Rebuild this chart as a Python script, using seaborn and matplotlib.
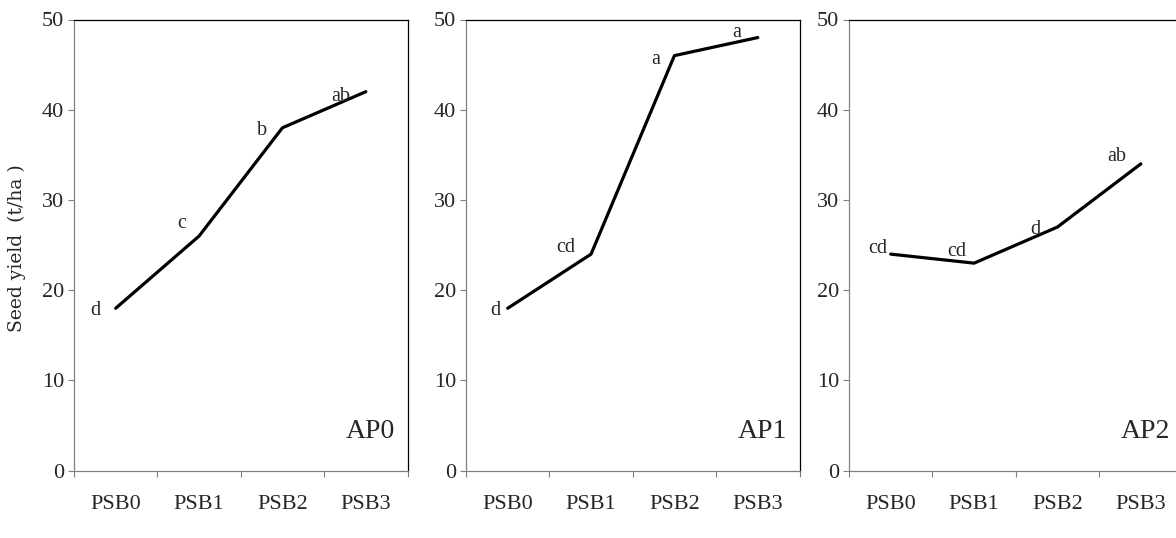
#!/usr/bin/env python3
import pandas as pd
import matplotlib
matplotlib.use('Agg')
import matplotlib.pyplot as plt
import seaborn as sns

treatments = ['PSB0', 'PSB1', 'PSB2', 'PSB3']
panels = ['AP0', 'AP1', 'AP2']
ap0_yield = [18, 26, 38, 42]
ap1_yield = [18, 24, 46, 48]
ap2_yield = [24, 23, 27, 34]
ap0_letters = ['d', 'c', 'b', 'ab']
ap1_letters = ['d', 'cd', 'a', 'a']
ap2_letters = ['cd', 'cd', 'd', 'ab']

# where each letter sits relative to its point, in pixels
ap0_offsets = [(-20, -2), (-17, 13), (-20, -3), (-25, -5)]
ap1_offsets = [(-12, -2), (-25, 7), (-19, -4), (-21, 5)]
ap2_offsets = [(-13, 6), (-17, 12), (-22, -2), (-24, 7)]


def build_frame():
    rows = []
    for panel, vals in zip(panels, [ap0_yield, ap1_yield, ap2_yield]):
        for t, v in zip(treatments, vals):
            rows.append({'panel': panel, 'treatment': t, 'yield': v})
    return pd.DataFrame(rows)


def main():
    sns.set_style('white')
    plt.rcParams['font.family'] = ['Liberation Serif', 'DejaVu Serif']
    df = build_frame()

    W, H = 1176, 538
    fig = plt.figure(figsize=(W / 100, H / 100), dpi=100)
    lefts = [74, 466, 849]
    letters = [ap0_letters, ap1_letters, ap2_letters]
    offsets = [ap0_offsets, ap1_offsets, ap2_offsets]
    grey = '#808080'

    for k, panel in enumerate(panels):
        ax = fig.add_axes([lefts[k] / W, (H - 470.7) / H, 333.5 / W, 451.2 / H])
        sub = df[df['panel'] == panel]
        sns.lineplot(data=sub, x='treatment', y='yield', ax=ax, color='black',
                     linewidth=2.3, sort=False)
        ax.set_xlim(-0.5, 3.5)
        ax.set_ylim(0, 50)
        ax.set_yticks(range(0, 51, 10))
        ax.set_xticks(range(len(treatments)))
        ax.set_xticklabels(treatments)
        ax.set_xticks([-0.5, 0.5, 1.5, 2.5, 3.5], minor=True)
        ax.tick_params(axis='x', which='major', length=0, pad=17.5, labelsize=16)
        ax.tick_params(axis='x', which='minor', length=4.2, width=0.8, color=grey,
                       direction='out', bottom=True)
        ax.tick_params(axis='y', length=4.2, width=0.8, color=grey, pad=3,
                       labelsize=16, direction='out', left=True)
        ax.set_xlabel('')
        ax.set_ylabel('')
        for side in ['left', 'bottom']:
            ax.spines[side].set_color(grey)
            ax.spines[side].set_linewidth(0.9)
        for side in ['top', 'right']:
            ax.spines[side].set_color('black')
            ax.spines[side].set_linewidth(0.9)

        for j, (lab, (dx, dy)) in enumerate(zip(letters[k], offsets[k])):
            val = sub['yield'].iloc[j]
            ax.annotate(lab, xy=(j, val), xytext=(dx, dy), textcoords='offset pixels',
                        ha='center', va='center', fontsize=14.5)

        ax.text(0.888, 0.086, panel, transform=ax.transAxes, ha='center',
                va='center', fontsize=20)

    fig.text(17 / W, 1 - 248 / H, 'Seed yield  (t/ha )', rotation=90, ha='center',
             va='center', fontsize=13.5, family=['DejaVu Serif'])

    fig.savefig('out.png', dpi=100)


if __name__ == '__main__':
    main()
